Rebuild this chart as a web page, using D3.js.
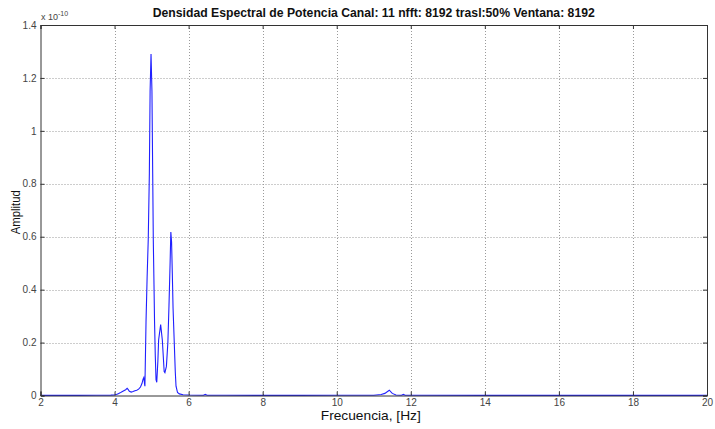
<!DOCTYPE html>
<html>
<head>
<meta charset="utf-8">
<script src="https://cdn.jsdelivr.net/npm/d3@7"></script>
<style>
  html, body { margin: 0; padding: 0; background: #fff; }
  svg { display: block; font-family: "Liberation Sans", Arial, sans-serif; }
</style>
</head>
<body>
<svg id="chart" width="715" height="429"></svg>
<script>
// Power spectral density, channel 11 (amplitude in units of 1e-10)
const freq = [
  2.0, 3.0, 3.5, 3.9, 4.0, 4.05, 4.1, 4.15, 4.2, 4.25, 4.3, 4.34, 4.37, 4.4, 4.45,
  4.5, 4.55, 4.6, 4.65, 4.7, 4.74, 4.77, 4.79, 4.81, 4.82, 4.85, 4.88, 4.91, 4.94,
  4.96, 4.985, 5.01, 5.03, 5.046, 5.065, 5.08, 5.10, 5.12, 5.14, 5.17, 5.19, 5.245,
  5.29, 5.34, 5.36, 5.40, 5.44, 5.47, 5.50, 5.52, 5.54, 5.56, 5.58, 5.61, 5.64,
  5.66, 5.70, 5.75, 5.85, 6.0, 6.4, 6.45, 6.5, 7.0, 8.0, 9.0, 10.0, 11.0, 11.2,
  11.3, 11.42, 11.5, 11.6, 11.75, 11.8, 11.85, 12.0, 14.0, 16.0, 18.0, 20.0
];
const amplitude = [
  0.0005, 0.0006, 0.0008, 0.0015, 0.002, 0.004, 0.007, 0.010, 0.014, 0.018, 0.022, 0.027, 0.022, 0.016, 0.013,
  0.015, 0.018, 0.020, 0.024, 0.032, 0.045, 0.062, 0.068, 0.045, 0.035, 0.28, 0.45, 0.59, 0.84,
  1.15, 1.29, 1.15, 0.84, 0.59, 0.42, 0.28, 0.15, 0.06, 0.05, 0.13, 0.21, 0.268,
  0.21, 0.09, 0.086, 0.11, 0.20, 0.34, 0.50, 0.618, 0.58, 0.46, 0.33, 0.21, 0.09,
  0.035, 0.012, 0.006, 0.003, 0.002, 0.001, 0.004, 0.001, 0.0008, 0.0006, 0.0006, 0.0008, 0.001, 0.004,
  0.008, 0.020, 0.008, 0.002, 0.001, 0.004, 0.001, 0.0008, 0.0005, 0.0004, 0.0004, 0.0004
];
const xTicks = [2, 4, 6, 8, 10, 12, 14, 16, 18, 20];
const yTicks = [0, 0.2, 0.4, 0.6, 0.8, 1, 1.2, 1.4];

const titleText = "Densidad Espectral de Potencia Canal: 11 nfft: 8192 trasl:50% Ventana: 8192";
const xLabel = "Frecuencia, [Hz]";
const yLabel = "Amplitud";

const svg = d3.select("#chart");
const plotLeft = 40.5, plotRight = 707, plotTop = 25, plotBottom = 395.5;

const x = d3.scaleLinear().domain([2, 20]).range([plotLeft, plotRight]);
const y = d3.scaleLinear().domain([0, 1.4]).range([plotBottom, plotTop]);

// dotted grid
const grid = svg.append("g");
grid.selectAll(".gx").data(xTicks.slice(1, -1)).join("line")
  .attr("x1", d => Math.round(x(d)) + 0.5).attr("x2", d => Math.round(x(d)) + 0.5)
  .attr("y1", plotTop).attr("y2", plotBottom)
  .attr("stroke", "#9a9a9a").attr("stroke-width", 1).attr("stroke-dasharray", "1,2");
grid.selectAll(".gy").data(yTicks.slice(1, -1)).join("line")
  .attr("y1", d => Math.round(y(d)) + 0.5).attr("y2", d => Math.round(y(d)) + 0.5)
  .attr("x1", plotLeft).attr("x2", plotRight)
  .attr("stroke", "#9a9a9a").attr("stroke-width", 1).attr("stroke-dasharray", "1,2");

// spectrum line
const line = d3.line().x((d, i) => x(freq[i])).y(d => y(d));
svg.append("path").datum(amplitude)
  .attr("d", line)
  .attr("fill", "none").attr("stroke", "#2020ff").attr("stroke-width", 1.1);

// axes (MATLAB style: ticks pointing inward, box around)
const fmt = d => d3.format("~g")(d);
const xAxis = svg.append("g").attr("transform", `translate(0,${plotBottom})`)
  .call(d3.axisBottom(x).tickValues(xTicks).tickSize(-4).tickPadding(2).tickFormat(fmt));
const yAxis = svg.append("g").attr("transform", `translate(${plotLeft},0)`)
  .call(d3.axisLeft(y).tickValues(yTicks).tickSize(-4).tickPadding(6).tickFormat(fmt));
svg.append("g").attr("transform", `translate(0,${plotTop})`)
  .call(d3.axisTop(x).tickValues(xTicks).tickSize(-4).tickFormat(""));
svg.append("g").attr("transform", `translate(${plotRight},0)`)
  .call(d3.axisRight(y).tickValues(yTicks).tickSize(-4).tickFormat(""));

svg.selectAll(".domain").attr("stroke", "#333");
svg.selectAll(".tick line").attr("stroke", "#333");
svg.selectAll(".tick text")
  .attr("font-family", "Liberation Sans, Arial, sans-serif")
  .attr("font-size", 10).attr("fill", "#444");
yAxis.selectAll(".tick text").attr("x", -4);
xAxis.selectAll(".tick text").attr("y", 3);

// exponent label
const expo = svg.append("text").attr("x", 41).attr("y", 20)
  .attr("font-size", 9).attr("fill", "#444");
expo.append("tspan").text("x 10");
expo.append("tspan").attr("dy", -4).attr("font-size", 7).text("-10");

// title
svg.append("text").attr("x", (plotLeft + plotRight) / 2).attr("y", 17)
  .attr("text-anchor", "middle").attr("font-weight", "bold").attr("font-size", 12.5)
  .attr("fill", "#111")
  .attr("textLength", 442).attr("lengthAdjust", "spacingAndGlyphs")
  .text(titleText);

// axis labels
svg.append("text").attr("x", (plotLeft + plotRight) / 2 - 3).attr("y", 420)
  .attr("text-anchor", "middle").attr("font-size", 13.5).attr("fill", "#111")
  .attr("textLength", 100).attr("lengthAdjust", "spacingAndGlyphs")
  .text(xLabel);
svg.append("text").attr("transform", `translate(20,${(plotTop + plotBottom) / 2 + 2}) rotate(-90)`)
  .attr("text-anchor", "middle").attr("font-size", 13.5).attr("fill", "#111")
  .attr("textLength", 44).attr("lengthAdjust", "spacingAndGlyphs")
  .text(yLabel);
</script>
</body>
</html>
